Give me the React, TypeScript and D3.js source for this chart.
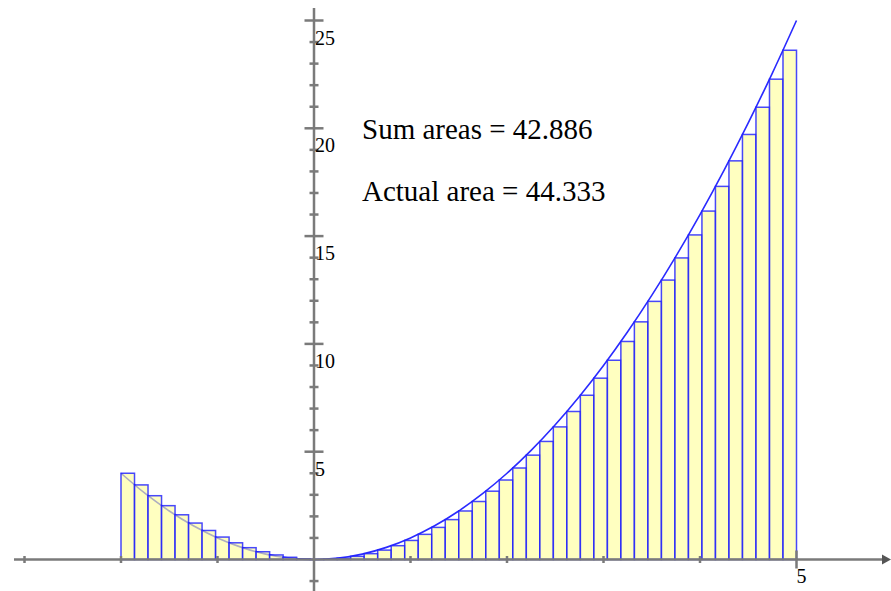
import * as d3 from "d3";

// left endpoints of the 50 rectangles (width 0.14) and their heights
const barX = [
  -2.0, -1.86, -1.72, -1.58, -1.44, -1.3, -1.16, -1.02, -0.88, -0.74,
  -0.6, -0.46, -0.32, -0.18, -0.04, 0.1, 0.24, 0.38, 0.52, 0.66,
  0.8, 0.94, 1.08, 1.22, 1.36, 1.5, 1.64, 1.78, 1.92, 2.06,
  2.2, 2.34, 2.48, 2.62, 2.76, 2.9, 3.04, 3.18, 3.32, 3.46,
  3.6, 3.74, 3.88, 4.02, 4.16, 4.3, 4.44, 4.58, 4.72, 4.86,
];
const barH = [
  4.0, 3.4596, 2.9584, 2.4964, 2.0736, 1.69, 1.3456, 1.0404, 0.7744, 0.5476,
  0.36, 0.2116, 0.1024, 0.0324, 0.0016, 0.01, 0.0576, 0.1444, 0.2704, 0.4356,
  0.64, 0.8836, 1.1664, 1.4884, 1.8496, 2.25, 2.6896, 3.1684, 3.6864, 4.2436,
  4.84, 5.4756, 6.1504, 6.8644, 7.6176, 8.41, 9.2416, 10.1124, 11.0224, 11.9716,
  12.96, 13.9876, 15.0544, 16.1604, 17.3056, 18.49, 19.7136, 20.9764, 22.2784, 23.6196,
];
const barWidth = 0.14;

// samples of the curve y = x^2
const curveX = [-2, -1.75, -1.5, -1.25, -1, -0.75, -0.5, -0.25, 0, 0.25, 0.5, 0.75, 1, 1.25, 1.5, 1.75, 2, 2.25, 2.5, 2.75, 3, 3.25, 3.5, 3.75, 4, 4.25, 4.5, 4.75, 5];
const curveY = [4, 3.0625, 2.25, 1.5625, 1, 0.5625, 0.25, 0.0625, 0, 0.0625, 0.25, 0.5625, 1, 1.5625, 2.25, 3.0625, 4, 5.0625, 6.25, 7.5625, 9, 10.5625, 12.25, 14.0625, 16, 18.0625, 20.25, 22.5625, 25];

const xMinorTicks = [-3, -2, -1, 1, 2, 3, 4];
const xMajorTicks = [5];
const yMinorTicks = [-1, 1, 2, 3, 4, 6, 7, 8, 9, 11, 12, 13, 14, 16, 17, 18, 19, 21, 22, 23, 24];
const yMajorTicks = [5, 10, 15, 20, 25];
const xLabels = [5];
const yLabels = [5, 10, 15, 20, 25];

const sumText = "Sum areas = 42.886";
const actualText = "Actual area = 44.333";

const W = 891;
const H = 591;

export default function App() {
  const x = d3.scaleLinear().domain([0, 5]).range([314, 796.5]);
  const y = d3.scaleLinear().domain([0, 25]).range([559.5, 20.5]);

  const line = d3
    .line<number>()
    .x((d) => x(d))
    .y((_, i) => y(curveY[i]))
    .curve(d3.curveCatmullRom);

  const axisColor = "#7a7a7a";
  const x0 = x(0);
  const y0 = y(0);
  const font = "'Liberation Serif', 'Times New Roman', serif";

  return (
    <svg width={W} height={H} style={{ position: "absolute", left: 0, top: 0 }}>
      <rect width={W} height={H} fill="#fff" />
      <path d={line(curveX) || ""} fill="none" stroke="#2a2aff" strokeWidth={1.6} />
      <g>
        {barX.map((bx, i) => (
          <rect
            key={i}
            x={x(bx)}
            width={x(bx + barWidth) - x(bx)}
            y={y(barH[i])}
            height={y0 - y(barH[i])}
            fill="#ffff99"
            fillOpacity={0.62}
            stroke="#1a1aff"
            strokeOpacity={0.8}
            strokeWidth={1.5}
          />
        ))}
      </g>
      <g stroke={axisColor}>
        <line x1={14} x2={884} y1={y0} y2={y0} strokeWidth={2.5} />
        <line x1={x0} x2={x0} y1={8} y2={H} strokeWidth={2.5} />
        {xMinorTicks.map((t) => (
          <line key={"xm" + t} x1={x(t)} x2={x(t)} y1={y0 - 3.5} y2={y0 + 3.5} strokeWidth={2.5} />
        ))}
        {xMajorTicks.map((t) => (
          <line key={"xM" + t} x1={x(t)} x2={x(t)} y1={y0 - 9} y2={y0 + 9} strokeWidth={2.5} />
        ))}
        {yMinorTicks.map((t) => (
          <line key={"ym" + t} x1={x0 - 4.5} x2={x0 + 4.5} y1={y(t)} y2={y(t)} strokeWidth={2.5} />
        ))}
        {yMajorTicks.map((t) => (
          <line key={"yM" + t} x1={x0 - 9.5} x2={x0 + 9.5} y1={y(t)} y2={y(t)} strokeWidth={2.5} />
        ))}
      </g>
      <path d={`M${W - 9},${y0 - 5} L${W},${y0} L${W - 9},${y0 + 5} Z`} fill="#555" />
      <g fontFamily={font} fontSize={20} fill="#000">
        {yLabels.map((t) => (
          <text key={"yl" + t} x={x0 + 1} y={y(t) + 24}>
            {t}
          </text>
        ))}
        {xLabels.map((t) => (
          <text key={"xl" + t} x={x(t)} y={y0 + 23}>
            {t}
          </text>
        ))}
      </g>
      <g fontFamily={font} fontSize={29} fill="#000">
        <text x={362} y={139}>{sumText}</text>
        <text x={362} y={201}>{actualText}</text>
      </g>
    </svg>
  );
}
